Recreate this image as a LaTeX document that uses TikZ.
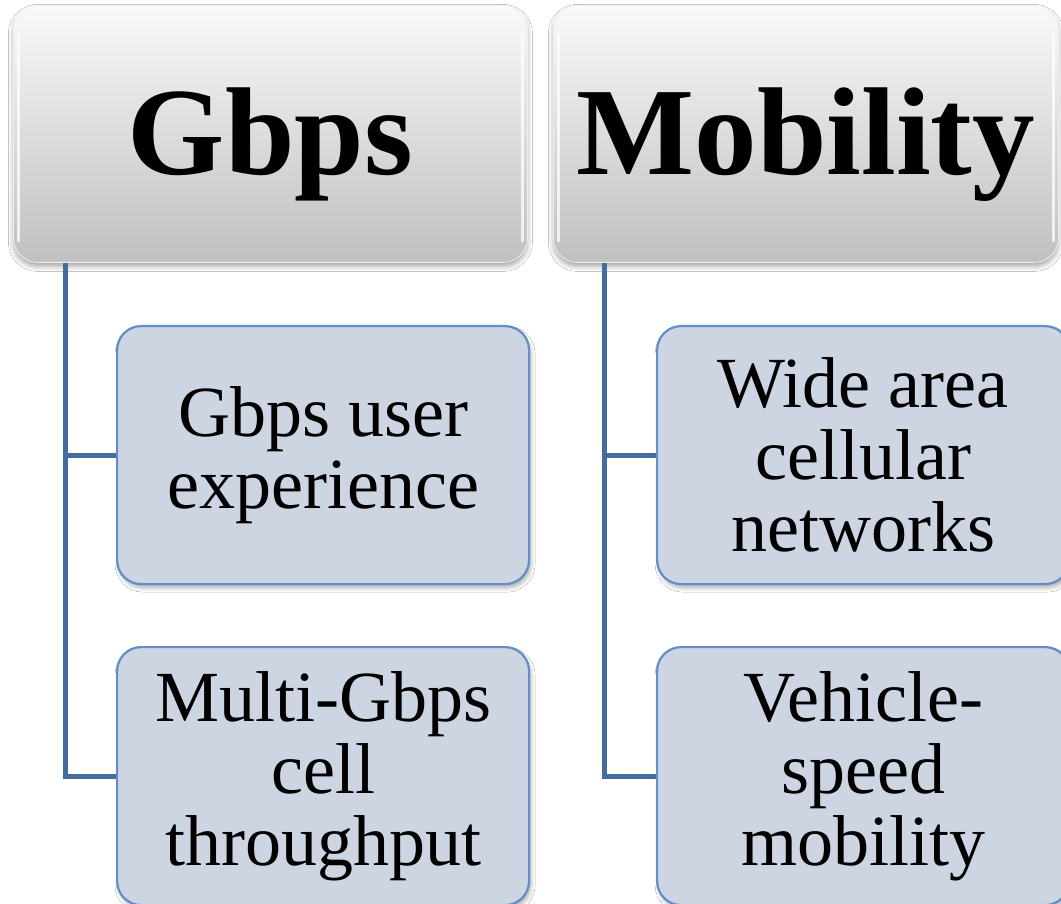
\documentclass[tikz,border=0pt]{standalone}
\usepackage{fontspec}
\setmainfont{Liberation Serif}
\usetikzlibrary{shadows.blur}

\definecolor{hdrtop}{RGB}{249,249,249}
\definecolor{hdrbot}{RGB}{192,192,192}
\definecolor{hdredge}{RGB}{238,238,238}
\definecolor{leaffill}{RGB}{205,212,226}
\definecolor{leafedge}{RGB}{98,142,199}
\definecolor{linkblue}{RGB}{69,108,158}

\tikzset{
  header/.style={
    rectangle, rounded corners=24pt, anchor=north west,
    top color=hdrtop, bottom color=hdrbot,
    draw=hdredge, line width=0.8pt,
    blur shadow={shadow xshift=0pt, shadow yshift=-4pt,
                 shadow blur radius=5pt, shadow opacity=35},
    font=\fontsize{125}{125}\selectfont\bfseries,
    inner sep=0pt, text depth=0pt
  },
  leaf/.style={
    rectangle, rounded corners=24pt, anchor=north west,
    fill=leaffill, draw=leafedge, line width=2.2pt,
    blur shadow={shadow xshift=2pt, shadow yshift=-4pt,
                 shadow blur radius=4pt, shadow opacity=30},
    minimum width=412pt, minimum height=258pt,
    align=center, font=\fontsize{72}{72}\selectfont,
    inner sep=0pt
  },
  gloss/.style={white, line width=3pt, line cap=round, opacity=0.75},
  link/.style={draw=linkblue, line width=5pt}
}

\begin{document}
\begin{tikzpicture}[x=1pt,y=-1pt]
  \useasboundingbox[fill=white] (0,0) rectangle (1061,904);

  % top-level headers
  \node[header, minimum width=514pt, minimum height=257pt] (gbps) at (13,5) {\raisebox{6pt}{Gbps}};
  \node[header, minimum width=505pt, minimum height=257pt] (mob) at (553,5) {\raisebox{6pt}{Mobility}};

  % glossy streaks along the inner sides of the headers
  \foreach \h in {gbps,mob}{
    \draw[gloss] ([xshift=5pt,yshift=-30pt]\h.north west) -- ([xshift=5pt,yshift=22pt]\h.south west);
    \draw[gloss] ([xshift=-5pt,yshift=-30pt]\h.north east) -- ([xshift=-5pt,yshift=22pt]\h.south east);
  }

  % second-level items
  \node[leaf] (gux) at (116,325) {Gbps user\\experience};
  \node[leaf] (mgt) at (116,646) {Multi-Gbps\\cell\\throughput};
  \node[leaf] (wac) at (656,325) {Wide area\\cellular\\networks};
  \node[leaf] (vsm) at (656,646) {Vehicle-\\speed\\mobility};

  % branch lines from each header to its items
  \coordinate (gtrunk) at ([xshift=52pt]gbps.south west);
  \coordinate (mtrunk) at ([xshift=51pt]mob.south west);
  \draw[link] (gtrunk) |- (gux.west);
  \draw[link] (gtrunk) |- (mgt.west);
  \draw[link] (mtrunk) |- (wac.west);
  \draw[link] (mtrunk) |- (vsm.west);
\end{tikzpicture}
\end{document}
